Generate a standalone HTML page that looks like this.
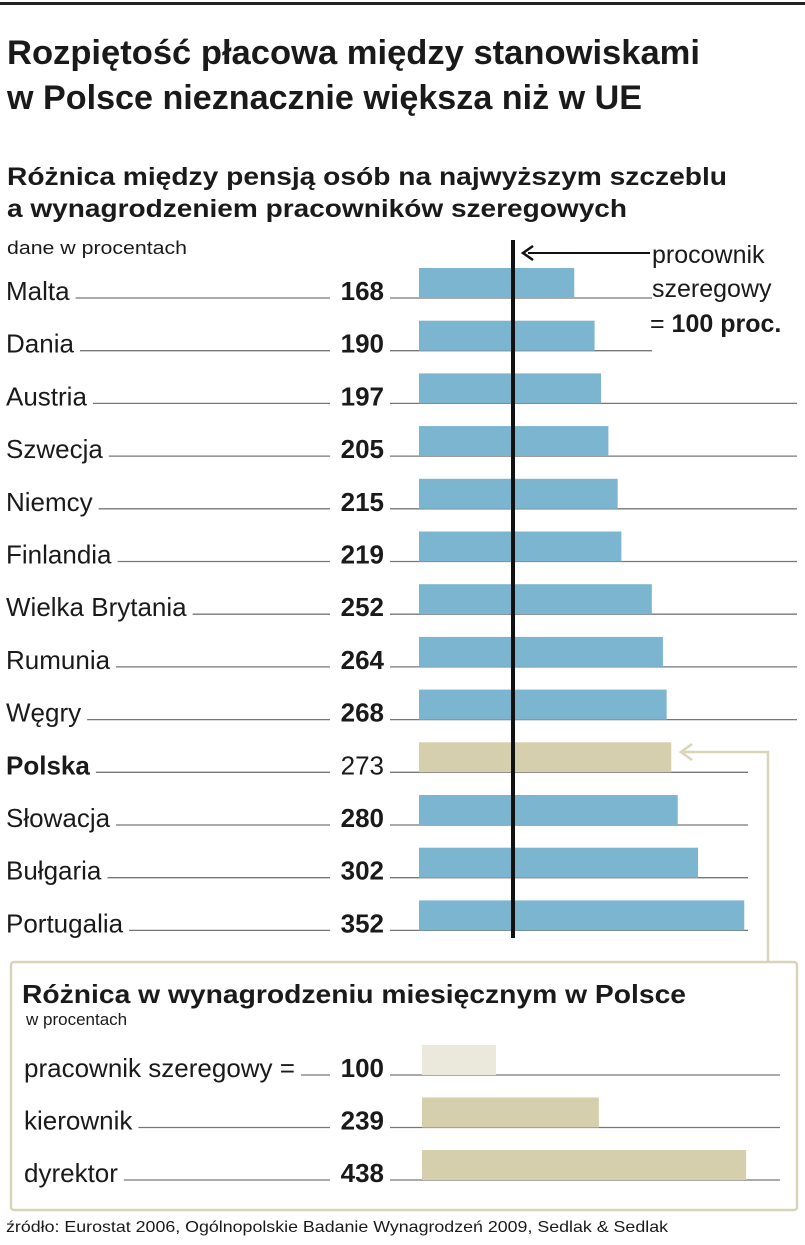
<!DOCTYPE html>
<html><head><meta charset="utf-8"><style>
html,body{margin:0;padding:0;background:#fff;width:805px;height:1245px;overflow:hidden}
svg{display:block}
text{font-family:"Liberation Sans",sans-serif;fill:#1a1a1a}
</style></head><body>
<svg id="chart" width="805" height="1245" viewBox="0 0 805 1245" xmlns="http://www.w3.org/2000/svg">
<rect x="0" y="2" width="805" height="3" fill="#222"/>
<text x="7" y="64" font-size="34" font-weight="bold" textLength="693" lengthAdjust="spacingAndGlyphs">Rozpiętość płacowa między stanowiskami</text>
<text x="7" y="109" font-size="34" font-weight="bold" textLength="635" lengthAdjust="spacingAndGlyphs">w Polsce nieznacznie większa niż w UE</text>
<text x="7" y="185" font-size="25" font-weight="bold" textLength="720" lengthAdjust="spacingAndGlyphs">Różnica między pensją osób na najwyższym szczeblu</text>
<text x="7" y="217" font-size="25" font-weight="bold" textLength="620" lengthAdjust="spacingAndGlyphs">a wynagrodzeniem pracowników szeregowych</text>
<text x="7" y="254" font-size="18" textLength="180" lengthAdjust="spacingAndGlyphs">dane w procentach</text>
<g id="rows"></g>
<rect x="511" y="240" width="4" height="698" fill="#111"/>
<line x1="528" y1="253" x2="650" y2="253" stroke="#111" stroke-width="2"/>
<path d="M533 246 L523 253 L533 260" fill="none" stroke="#111" stroke-width="2.5"/>
<text x="652" y="263" font-size="25">procownik</text>
<text x="652" y="297" font-size="25">szeregowy</text>
<text x="650" y="332" font-size="25">= <tspan font-weight="bold">100 proc.</tspan></text>
<path d="M684 752 L768 752 L768 962" fill="none" stroke="#d8d4b8" stroke-width="2.5"/>
<path d="M692 744 L681 752 L692 760" fill="none" stroke="#d8d4b8" stroke-width="2.5"/>
<rect x="11" y="962" width="786" height="248" rx="3" fill="#fff" stroke="#d8d4b8" stroke-width="2.5"/>
<text x="22" y="1003" font-size="26" font-weight="bold" textLength="664" lengthAdjust="spacingAndGlyphs">Różnica w wynagrodzeniu miesięcznym w Polsce</text>
<text x="26" y="1025" font-size="17">w procentach</text>
<g id="plRows"></g>
<text x="6" y="1232" font-size="16" textLength="662" lengthAdjust="spacingAndGlyphs">źródło: Eurostat 2006, Ogólnopolskie Badanie Wynagrodzeń 2009, Sedlak &amp; Sedlak</text>
</svg>
<script>
const countries=["Malta","Dania","Austria","Szwecja","Niemcy","Finlandia","Wielka Brytania","Rumunia","Węgry","Polska","Słowacja","Bułgaria","Portugalia"];
const values=[168,190,197,205,215,219,252,264,268,273,280,302,352];
const plLabels=["pracownik szeregowy =","kierownik","dyrektor"];
const plValues=[100,239,438];
const NS="http://www.w3.org/2000/svg";
function mk(tag,attrs,parent){const e=document.createElementNS(NS,tag);for(const k in attrs)e.setAttribute(k,attrs[k]);parent.appendChild(e);return e;}
const xTop=v=>419+v*0.924;
const yRow=i=>298+i*52.7;
const xPl=v=>422+v*0.74;
const yPl=i=>1075+i*52.5;
const rows=document.getElementById('rows');
countries.forEach((c,i)=>{
  const y=yRow(i), pl=c==="Polska";
  const lineEnd=i<2?652:(i<9?797:748);
  const l2=mk('line',{x1:390,y1:y,x2:lineEnd,y2:y,stroke:'#777','stroke-width':1.3},rows);
  
  
  const b=mk('rect',{x:xTop(0),y:y-30,width:xTop(values[i])-xTop(0),height:30,fill:pl?'#d6cfae':'#7cb5cf'},rows);
  
  
  const t=mk('text',{x:6,y:y+2,'font-size':26,'font-weight':pl?'bold':'normal'},rows);
  t.textContent=c;
  
  
  const n=mk('text',{x:384,y:y+2,'font-size':26,'font-weight':pl?'normal':'bold','text-anchor':'end'},rows);
  n.textContent=values[i];
  
  
  const tw=t.getComputedTextLength();
  const l1=mk('line',{x1:6+tw+6,y1:y,x2:330,y2:y,stroke:'#777','stroke-width':1.3},rows);
  
  
});
const plg=document.getElementById('plRows');
plLabels.forEach((c,i)=>{
  const y=yPl(i);
  const l2=mk('line',{x1:390,y1:y,x2:780,y2:y,stroke:'#777','stroke-width':1.3},plg);
  
  
  const b=mk('rect',{x:xPl(0),y:y-30,width:xPl(plValues[i])-xPl(0),height:30,fill:i===0?'#ebe8dc':'#d6cfae'},plg);
  
  
  const t=mk('text',{x:24,y:y+2,'font-size':26},plg);
  t.textContent=c;
  
  
  const n=mk('text',{x:384,y:y+2,'font-size':26,'font-weight':'bold','text-anchor':'end'},plg);
  n.textContent=plValues[i];
  
  
  const tw=t.getComputedTextLength();
  const l1=mk('line',{x1:24+tw+6,y1:y,x2:330,y2:y,stroke:'#777','stroke-width':1.3},plg);
  
  
});
</script>
</body></html>
